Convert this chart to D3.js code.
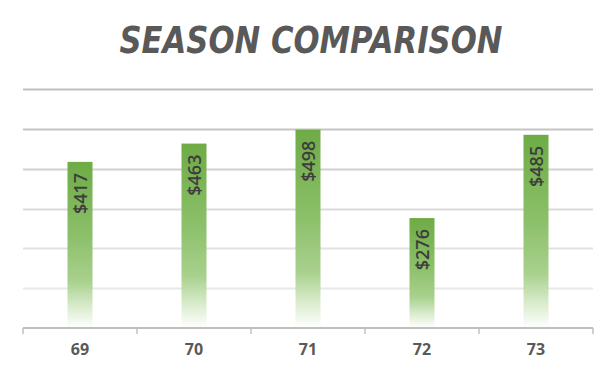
<!DOCTYPE html>
<html>
<head>
<meta charset="utf-8">
<script src="https://cdn.jsdelivr.net/npm/d3@7"></script>
<style>
  body { margin: 0; background: #fff; }
</style>
</head>
<body>
<div id="chart"></div>
<script>
var width = 616, height = 376

// data
var seasons = ["69", "70", "71", "72", "73"]
var amounts = [417, 463, 498, 276, 485]
var gridTicks = [0, 100, 200, 300, 400, 500, 600]
var gridColors = ["#bfbfbf", "#e8e8e8", "#e2e2e2", "#dadada", "#d0d0d0", "#c4c4c4", "#bfbfbf"]

var svg = d3.select("#chart")
  .append("svg")
    .attr("width", width)
    .attr("height", height)

var defs = svg.append("defs")
var grad = defs.append("linearGradient")
  .attr("id", "barFade")
  .attr("x1", 0).attr("y1", 0).attr("x2", 0).attr("y2", 1)
grad.append("stop").attr("offset", "0%").attr("stop-color", "#6eab45")
grad.append("stop").attr("offset", "45%").attr("stop-color", "#8cc06a")
grad.append("stop").attr("offset", "72%").attr("stop-color", "#a9d18e")
grad.append("stop").attr("offset", "88%").attr("stop-color", "#dcedd0")
grad.append("stop").attr("offset", "100%").attr("stop-color", "#ffffff")

// title
svg.append("text")
  .attr("x", 311)
  .attr("y", 53)
  .attr("text-anchor", "middle")
  .attr("textLength", 383)
  .attr("lengthAdjust", "spacingAndGlyphs")
  .style("font-family", "DejaVu Sans")
  .style("font-weight", "bold")
  .style("font-style", "italic")
  .style("font-size", "38px")
  .style("fill", "#595959")
  .text("SEASON COMPARISON")

var x = d3.scaleBand()
  .domain(seasons)
  .range([23, 593])
  .paddingInner(0)
  .paddingOuter(0)

var y = d3.scaleLinear()
  .domain([0, 600])
  .range([328, 89])

// gridlines
svg.selectAll(".grid")
  .data(gridTicks.slice(1))
  .enter()
  .append("line")
    .attr("class", "grid")
    .attr("x1", 23)
    .attr("x2", 593)
    .attr("y1", d => Math.round(y(d)) + 0.5)
    .attr("y2", d => Math.round(y(d)) + 0.5)
    .attr("stroke", (d, i) => gridColors[i + 1])
    .attr("stroke-width", 2)

var barW = 25

svg.selectAll(".bar")
  .data(amounts)
  .enter()
  .append("rect")
    .attr("class", "bar")
    .attr("x", (d, i) => x(seasons[i]) + x.bandwidth() / 2 - barW / 2)
    .attr("y", d => y(d))
    .attr("width", barW)
    .attr("height", d => y(0) - y(d))
    .attr("fill", "url(#barFade)")

// value labels, rotated inside the bar
svg.selectAll(".lbl")
  .data(amounts)
  .enter()
  .append("text")
    .attr("class", "lbl")
    .attr("transform", (d, i) => {
      var cx = x(seasons[i]) + x.bandwidth() / 2
      return `translate(${cx + 6.5},${y(d) + 11}) rotate(-90)`
    })
    .attr("text-anchor", "end")
    .style("font-family", "Open Sans")
    .style("font-weight", "600")
    .style("font-size", "18px")
    .style("fill", "#3d3d3d")
    .text(d => "$" + d)

// x axis
var xAxis = svg.append("g")
  .attr("transform", "translate(0,328)")
  .call(d3.axisBottom(x).tickSize(0).tickPadding(16))

xAxis.select(".domain").remove()
xAxis.append("line")
  .attr("x1", 23).attr("x2", 593)
  .attr("y1", 0).attr("y2", 0)
  .attr("stroke", "#bfbfbf")
  .attr("stroke-width", 2)

var edges = seasons.map(s => x(s)).concat([x.range()[1]])
xAxis.selectAll(".edge")
  .data(edges)
  .enter()
  .append("line")
    .attr("class", "edge")
    .attr("x1", d => d).attr("x2", d => d)
    .attr("y1", 0).attr("y2", 6)
    .attr("stroke", "#bfbfbf")
    .attr("stroke-width", 1.5)

xAxis.selectAll(".tick text")
  .style("font-family", "Open Sans")
  .style("font-weight", "bold")
  .style("font-size", "16px")
  .style("fill", "#595959")
</script>
</body>
</html>
